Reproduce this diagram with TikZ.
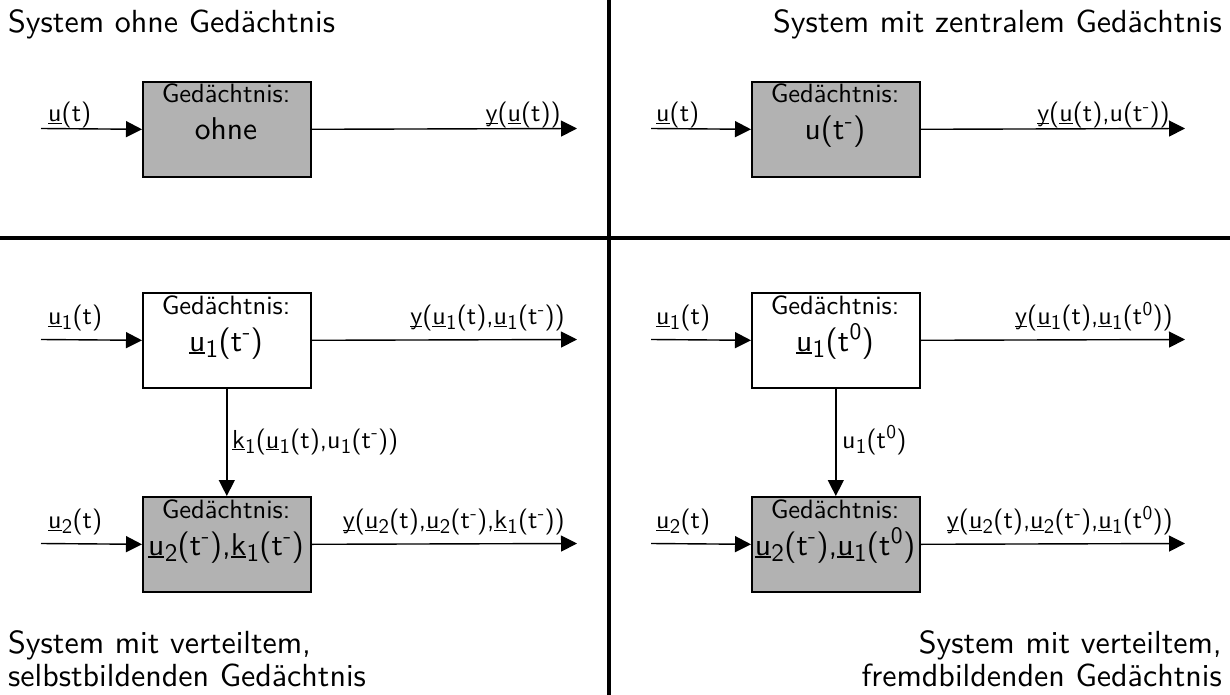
\documentclass[tikz,border=0pt]{standalone}
\usepackage{fontspec}
\usepackage{graphicx}
\setsansfont{lmsans10-regular.otf}
\usetikzlibrary{arrows.meta}
\newcommand\uln[1]{\leavevmode\setbox0\hbox{#1}\rlap{\rule[-0.09em]{\wd0}{0.045em}}\box0}
\newcommand\sbs[1]{\kern0.01em\raisebox{-0.2em}{\scalebox{0.8}{#1}}\kern0.01em}
\newcommand\sps[1]{\kern0.01em\raisebox{0.36em}{\scalebox{0.75}{#1}}\kern0.01em}
\newcommand\tmi{t\sps{-}}
\newcommand\tnu{t\sps{0}}
\tikzset{
  every node/.style={font=\sffamily\fontsize{26}{31}\selectfont, inner sep=0pt},
  caption/.style={font=\sffamily\fontsize{32}{38}\selectfont},
  mem/.style={draw, line width=1.6pt, minimum width=168pt, minimum height=95pt, anchor=north west},
  memgray/.style={mem, fill=black!30},
  memwhite/.style={mem, fill=white},
  memhead/.style={font=\sffamily\fontsize{26.5}{31}\selectfont, anchor=base},
  memval/.style={font=\sffamily\fontsize{31.5}{37}\selectfont, anchor=base},
  lbl/.style={anchor=base west},
  lblr/.style={anchor=base east},
  conn/.style={line width=1.4pt, -{Triangle[length=16pt,width=16pt]}},
  divider/.style={line width=4.5pt}
}
\begin{document}
\begin{tikzpicture}[x=1pt,y=-1pt]
\useasboundingbox (0,0) rectangle (1230,695);
% dividers
\coordinate (vt) at (609,0); \coordinate (vb) at (609,695);
\coordinate (hl) at (0,238); \coordinate (hr) at (1230,238);
\draw[divider] (vt) -- (vb);
\draw[divider] (hl) -- (hr);

% captions
\node[caption, anchor=base west] (c1) at (8,33) {System ohne Gedächtnis};
\node[caption, anchor=base east] (c2) at (1222,33) {System mit zentralem Gedächtnis};
\node[caption, anchor=base west] (c3) at (8,653) {System mit verteiltem,};
\node[caption, anchor=base west] (c3b) at (8,686) {selbstbildenden Gedächtnis};
\node[caption, anchor=base east] (c4) at (1222,653) {System mit verteiltem,};
\node[caption, anchor=base east] (c4b) at (1222,686) {fremdbildenden Gedächtnis};

% ---------- top left ----------
\node[memgray] (A) at (142,81) {};
\node[memhead] (At1) at (226,103) {Gedächtnis:};
\node[memval] (At2) at (226,140) {ohne};
\coordinate (Ain) at (41,128.5);
\coordinate (Aout) at (577,128.5);
\draw[conn] (Ain) -- (A.west);
\draw[conn] (A.east) -- (Aout);
\node[lbl] (Al1) at (48,121.5) {\uln{u}(t)};
\node[lblr] (Al2) at (561,121.5) {\uln{y}(\uln{u}(t))};

% ---------- top right ----------
\node[memgray] (B) at (751,81) {};
\node[memhead] (Bt1) at (835,103) {Gedächtnis:};
\node[memval] (Bt2) at (835,140) {u(\tmi)};
\coordinate (Bin) at (651,128.5);
\coordinate (Bout) at (1185,128.5);
\draw[conn] (Bin) -- (B.west);
\draw[conn] (B.east) -- (Bout);
\node[lbl] (Bl1) at (656,121.5) {\uln{u}(t)};
\node[lblr] (Bl2) at (1170,121.5) {\uln{y}(\uln{u}(t),u(\tmi))};

% ---------- bottom left ----------
\node[memwhite] (C) at (142,292) {};
\node[memhead] (Ct1) at (226,314) {Gedächtnis:};
\node[memval] (Ct2) at (226,351) {\uln{u}\sbs{1}(\tmi)};
\coordinate (Cin) at (41,339.5);
\coordinate (Cout) at (577,339.5);
\draw[conn] (Cin) -- (C.west);
\draw[conn] (C.east) -- (Cout);
\node[lbl] (Cl1) at (48,324.5) {\uln{u}\sbs{1}(t)};
\node[lblr] (Cl2) at (565,324.5) {\uln{y}(\uln{u}\sbs{1}(t),\uln{u}\sbs{1}(\tmi))};

\node[memgray] (D) at (142,496) {};
\node[memhead] (Dt1) at (226,518) {Gedächtnis:};
\node[memval] (Dt2) at (226,555) {\uln{u}\sbs{2}(\tmi),\uln{k}\sbs{1}(\tmi)};
\coordinate (Din) at (41,543.5);
\coordinate (Dout) at (577,543.5);
\draw[conn] (Din) -- (D.west);
\draw[conn] (D.east) -- (Dout);
\node[lbl] (Dl1) at (48,528.5) {\uln{u}\sbs{2}(t)};
\node[lblr] (Dl2) at (565,528.5) {\uln{y}(\uln{u}\sbs{2}(t),\uln{u}\sbs{2}(\tmi),\uln{k}\sbs{1}(\tmi))};

\draw[conn] (C.south) -- (D.north);
\node[lbl] (CDl) at (232,448) {\uln{k}\sbs{1}(\uln{u}\sbs{1}(t),u\sbs{1}(\tmi))};

% ---------- bottom right ----------
\node[memwhite] (E) at (751,292) {};
\node[memhead] (Et1) at (835,314) {Gedächtnis:};
\node[memval] (Et2) at (835,351) {\uln{u}\sbs{1}(\tnu)};
\coordinate (Ein) at (651,339.5);
\coordinate (Eout) at (1185,339.5);
\draw[conn] (Ein) -- (E.west);
\draw[conn] (E.east) -- (Eout);
\node[lbl] (El1) at (656,324.5) {\uln{u}\sbs{1}(t)};
\node[lblr] (El2) at (1173,324.5) {\uln{y}(\uln{u}\sbs{1}(t),\uln{u}\sbs{1}(\tnu))};

\node[memgray] (F) at (751,496) {};
\node[memhead] (Ft1) at (835,518) {Gedächtnis:};
\node[memval] (Ft2) at (835,555) {\uln{u}\sbs{2}(\tmi),\uln{u}\sbs{1}(\tnu)};
\coordinate (Fin) at (651,543.5);
\coordinate (Fout) at (1185,543.5);
\draw[conn] (Fin) -- (F.west);
\draw[conn] (F.east) -- (Fout);
\node[lbl] (Fl1) at (656,528.5) {\uln{u}\sbs{2}(t)};
\node[lblr] (Fl2) at (1173,528.5) {\uln{y}(\uln{u}\sbs{2}(t),\uln{u}\sbs{2}(\tmi),\uln{u}\sbs{1}(\tnu))};

\draw[conn] (E.south) -- (F.north);
\node[lbl] (EFl) at (842,448) {u\sbs{1}(\tnu)};
\end{tikzpicture}
\end{document}
